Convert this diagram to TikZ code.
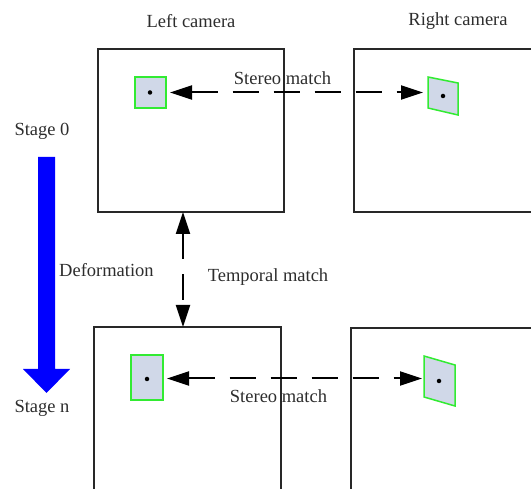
\documentclass[tikz,border=0pt]{standalone}
\usepackage{fontspec}
\setmainfont{Liberation Serif}
\usetikzlibrary{arrows.meta}
\definecolor{boxline}{RGB}{40,40,40}
\definecolor{patchfill}{RGB}{208,216,232}
\definecolor{patchline}{RGB}{50,235,50}
\definecolor{txt}{RGB}{45,45,45}
\begin{document}
\begin{tikzpicture}[x=1pt,y=-1pt,
  font=\fontsize{18.5}{22}\selectfont,
  camframe/.style={draw=boxline, line width=2pt, inner sep=0pt, outer sep=0pt},
  patch/.style={draw=patchline, fill=patchfill, line width=1.5pt, inner sep=0pt, outer sep=0pt},
  patchpath/.style={draw=patchline, fill=patchfill, line width=1.5pt, line join=miter},
  centerdot/.style={circle, fill=black, inner sep=0pt, minimum size=4.5pt},
  matcharrow/.style={draw=black, line width=2pt, dash pattern=on 26pt off 15pt,
    {Triangle[length=22pt,width=14pt]}-{Triangle[length=22pt,width=14pt]}},
  lbl/.style={text=txt, inner sep=0pt}]
\useasboundingbox (0,0) rectangle (531,489);
\clip (0,0) rectangle (531,489);

% camera frames
\node[camframe, minimum width=186pt, minimum height=163pt] (ltop) at (191,130.5) {};
\node[camframe, minimum width=216pt, minimum height=163pt] (rtop) at (462,130.5) {};
\node[camframe, minimum width=187pt, minimum height=213pt] (lbot) at (187.5,433.5) {};
\node[camframe, minimum width=219pt, minimum height=212pt] (rbot) at (460.5,434) {};

% patches, stage 0
\node[patch, minimum width=31pt, minimum height=31pt] (lp0) at (150.5,92.5) {};
\node[centerdot] (ld0) at (150,92.5) {};
\draw[patchpath] (428,77) -- (458,83) -- (458,115) -- (428,108) -- cycle;
\node[centerdot] (rd0) at (443,96) {};
\coordinate (rp0) at (428,92.5);

% patches, stage n
\node[patch, minimum width=32pt, minimum height=45pt] (lpn) at (147,377.5) {};
\node[centerdot] (ldn) at (147,379) {};
\draw[patchpath] (424,356) -- (455,365) -- (455,406) -- (424,397) -- cycle;
\node[centerdot] (rdn) at (439,381) {};
\coordinate (rpn) at (424,378.5);

% stereo matches
\draw[matcharrow, shorten <=4pt, shorten >=5pt] (lp0.east) -- (rp0);
\draw[matcharrow, shorten <=4pt, shorten >=2pt] (lpn.east |- rpn) -- (rpn);

% temporal match
\coordinate (tmx) at (183,270);
\draw[matcharrow] (ltop.south -| tmx) -- (lbot.north -| tmx);

% deformation arrow
\fill[blue] (38,157) -- (55,157) -- (55,369) -- (70,369) -- (46.5,393)
  -- (23,369) -- (38,369) -- cycle;

% labels
\node[lbl] (lcam) at (191,21) {Left camera};
\node[lbl] (rcam) at (458,21) {Right camera};
\node[lbl] (st0) at (42,131) {Stage 0};
\node[lbl] (stn) at (42,408) {Stage n};
\node[lbl, anchor=west] (def) at (59,270) {Deformation};
\node[lbl] (tm) at (268,277) {Temporal match};
\node[lbl] (sm0) at (282.5,78) {Stereo match};
\node[lbl] (smn) at (278.5,396) {Stereo match};
\end{tikzpicture}
\end{document}
